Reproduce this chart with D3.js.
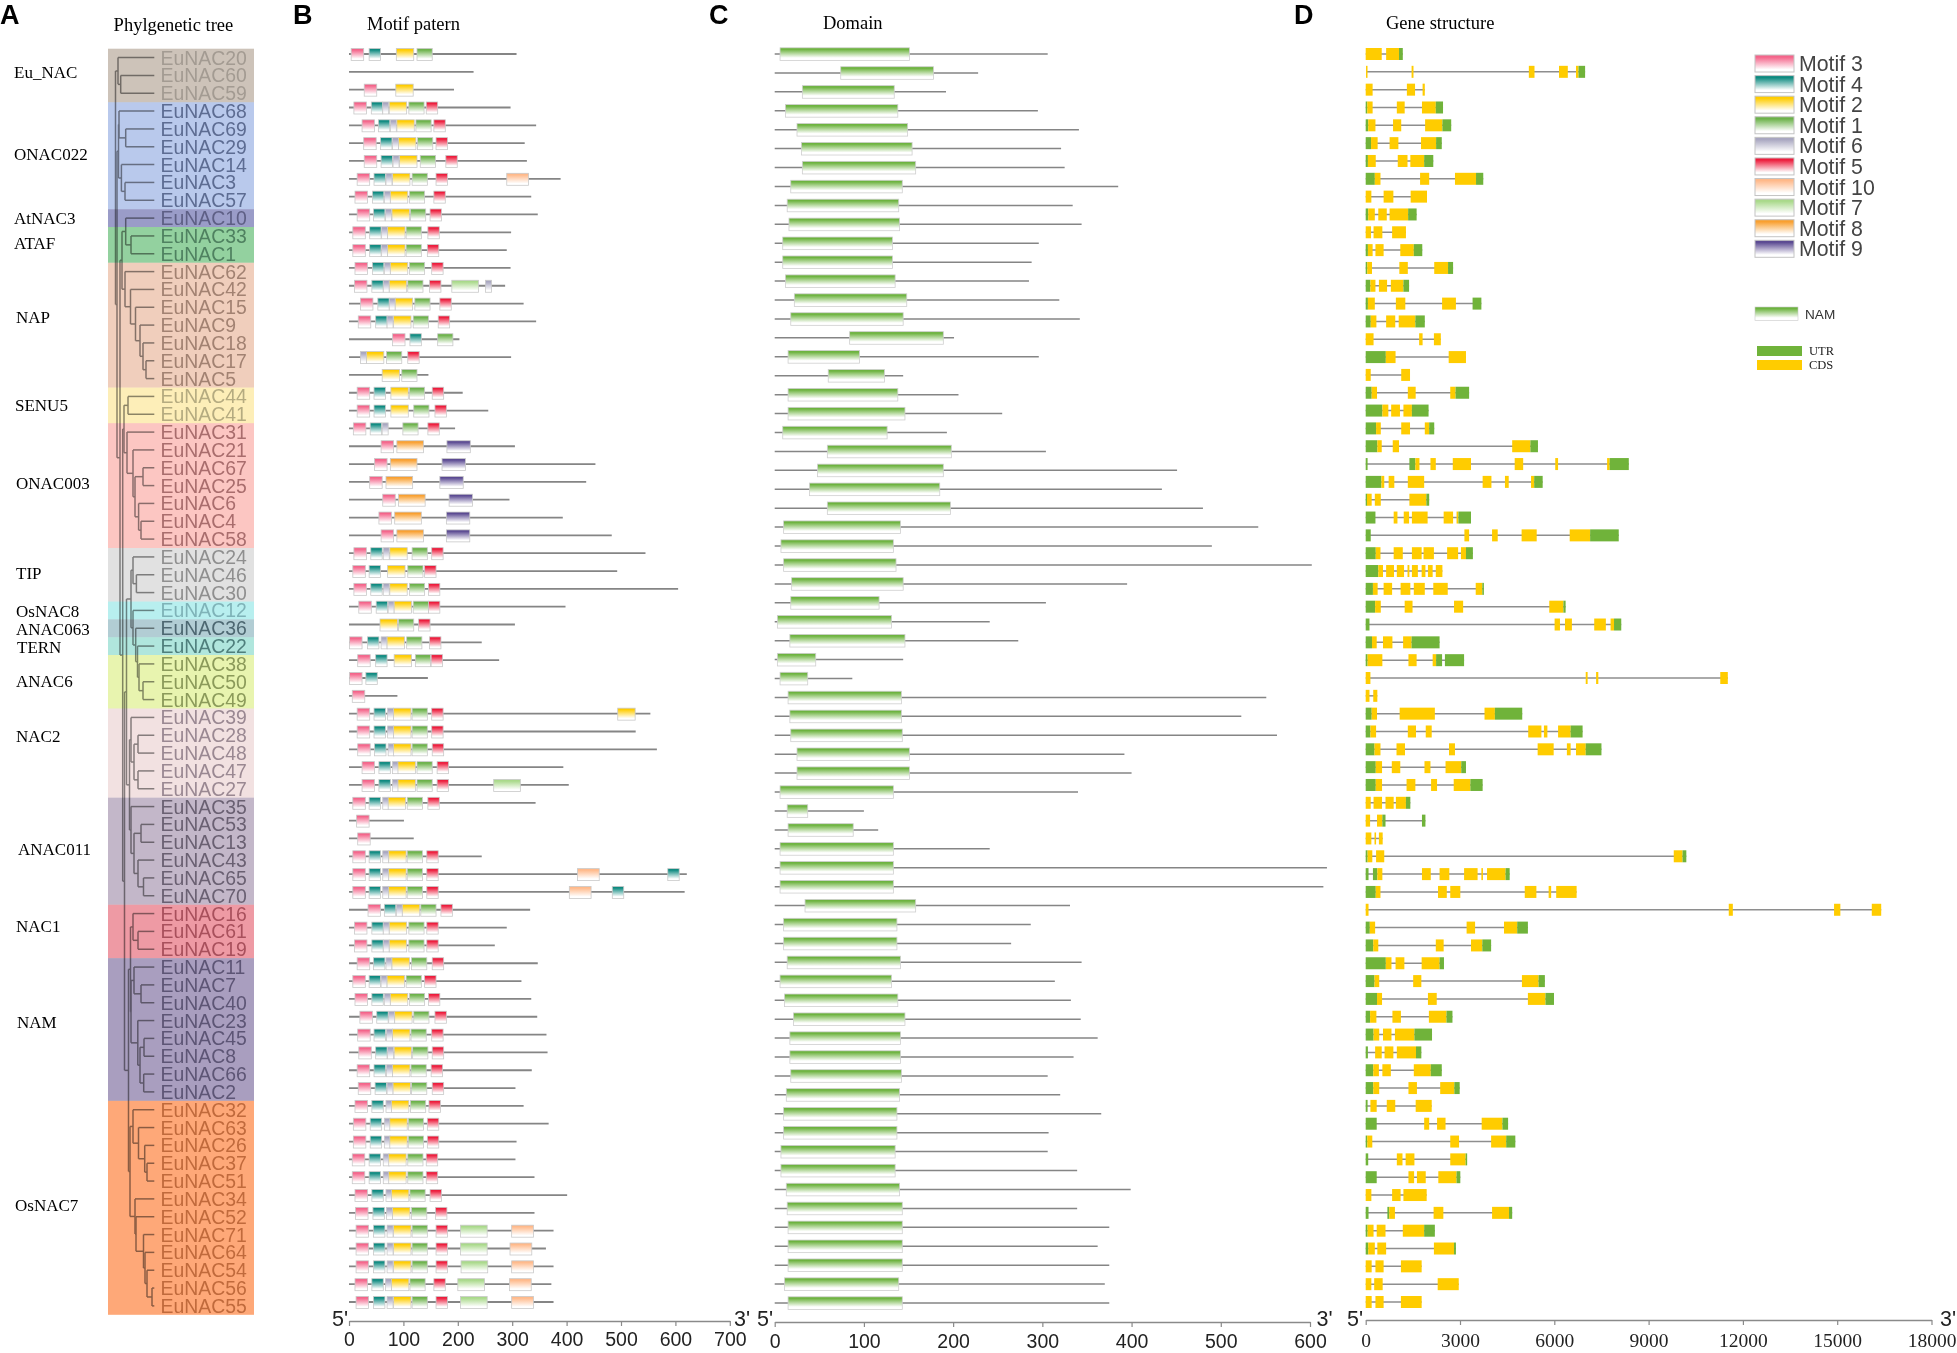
<!DOCTYPE html>
<html><head><meta charset="utf-8">
<script src="https://cdnjs.cloudflare.com/ajax/libs/d3/7.8.5/d3.min.js"></script>
<style>html,body{margin:0;padding:0;background:#fff}svg{display:block}</style>
</head><body>
<svg id="c" width="1957" height="1353"></svg>
<script>
// ---------- DATA ----------
const geneNames = [20,60,59,68,69,29,14,3,57,10,33,1,62,42,15,9,18,17,5,44,41,31,21,67,25,6,4,58,24,46,30,12,36,22,38,50,49,39,28,48,47,27,35,53,13,43,65,70,16,61,19,11,7,40,23,45,8,66,2,32,63,26,37,51,34,52,71,64,54,56,55].map(n=>"EuNAC"+n);
const bandNames = ["Eu_NAC","ONAC022","AtNAC3","ATAF","NAP","SENU5","ONAC003","TIP","OsNAC8","ANAC063","TERN","ANAC6","NAC2","ANAC011","NAC1","NAM","OsNAC7"];
const bandCounts = [3,6,1,2,7,2,7,3,1,1,1,3,5,6,3,8,12];
const bandFills = ["#cdc3b9","#b9c9ec","#9a9cc8","#93d19f","#f0cebc","#fdeeb8","#fcc6c2","#e1e1e1","#b8efef","#b2cdd4","#b0e6dd","#e8f4af","#f2e1e1","#c3b7c9","#ee9aa4","#a99ebf","#fea878"];
const bandInks = ["#a39b92","#5d6c92","#5e5f85","#4f8160","#a28272","#b5ab80","#a96d6d","#8f8f8f","#7fb3b8","#4d6771","#4f7f7c","#8b9a5a","#9a8892","#6a6072","#a8505c","#5d5575","#c06a3c"];
const bandLabelX = [14,14,14,14,16,15,16,16,16,16,17,16,16,18,16,17,15];
const bandLabelY = [72,154,218,243,317,405,483,573,611,629,647,681,736,849,926,1022,1205];

// Tree: T(divergence, ...children), leaves are gene names
const T=(d,...c)=>({d,c});
const L=n=>({d:39.3,n});
const G=n=>L("EuNAC"+n);
const treeData =
T(0.5,
  T(3,G(20),T(5.7,G(60),G(59))),
  T(2,
    T(3.5,T(4,G(68),T(10.7,G(69),G(29))),T(6.4,G(14),T(10,G(3),G(57)))),
    T(5,
      T(7,
        T(10.7,G(10),T(16,G(33),G(1))),
        T(10,G(62),T(15.5,G(42),T(20.5,G(15),T(25,G(9),T(28,G(18),T(31,G(17),G(5)))))))),
      T(7.7,
        T(9,T(13,G(44),G(41)),
          T(12,G(31),T(18,G(21),T(20,T(28,G(67),G(25)),T(23.6,G(6),T(26,G(4),G(58))))))),
        T(9.5,
          T(11.5,
            T(16,
              T(18,G(24),T(21.4,G(46),G(30))),
              T(18,G(12),T(20.7,G(36),T(22.5,G(22),T(24,G(38),T(28,G(50),G(49))))))),
            T(14.5,
              T(16,G(39),T(19,T(23,G(28),G(48)),T(23,G(47),G(27)))),
              T(16,G(35),T(19,T(26,G(53),G(13)),T(23,G(43),T(28.5,G(65),G(70))))))),
          T(13.5,
            T(15.5,
              T(18,G(16),T(23,G(61),G(19))),
              T(16,T(19,G(11),T(26,G(7),G(40))),T(22.8,G(23),T(25,T(29,G(45),G(8)),T(28.7,G(66),G(2)))))),
            T(15,
              T(18,G(32),T(23.5,G(63),T(29.7,G(26),T(32,G(37),G(51))))),
              T(20,G(34),T(21,G(52),T(28.5,G(71),T(30,G(64),T(32,G(54),T(37,G(56),G(55)))))))))
        )
      )
    )
  )
);

// Motif pattern (aa)
const motifIds = [3,4,2,1,6,5,10,7,8,9];
const motifColors = ["#f4648a","#0e8a80","#ffcc00","#6cb24a","#a8a6c0","#ed1c3c","#ffb98a","#a9d98a","#f9a030","#5b4a92"];
const motifSpan = {3:23,4:21,2:32,1:28,6:11,5:21,10:40,7:49,8:49,9:43};
const proteinLen = [308,229,193,297,344,323,327,389,335,347,298,290,297,287,321,344,203,298,146,209,256,195,305,453,436,295,393,483,545,493,605,398,305,244,276,145,89,554,527,566,394,404,343,101,119,244,621,617,333,290,268,347,317,335,346,363,365,336,306,321,367,308,306,341,401,341,376,362,376,372,376];
const motifHits = [
[3,4,4,37,2,87,1,125],[],[3,28,2,86],
[3,9,4,41,6,62,2,74,1,110,5,142],[3,24,4,54,6,76,2,88,1,123,5,156],[3,27,4,58,6,80,2,91,1,126,5,160],
[3,28,4,59,6,81,2,93,1,131,5,178],[3,15,4,46,6,68,2,80,1,116,5,160,10,290],[3,11,4,43,6,65,2,76,1,111,5,156],
[3,15,4,45,6,67,2,79,1,113,5,149],[3,7,4,38,6,60,2,71,1,105,5,145],[3,7,4,38,6,60,2,71,1,105,5,144],
[3,11,4,43,6,65,2,76,1,111,5,152],[3,10,4,42,6,63,2,74,1,108,5,148,7,189,6,251],[3,21,4,53,6,74,2,85,1,121,5,167],
[3,17,4,49,6,70,2,82,1,118,5,164],[3,80,4,112,1,163],[6,21,2,32,1,69,5,108],[2,61,1,97],
[3,15,4,46,2,77,1,111,5,153],[3,15,4,46,2,77,1,119,5,158],[3,8,4,39,6,61,1,99,5,145],
[3,59,8,88,9,180],[3,47,8,76,9,171],[3,38,8,68,9,167],[3,62,8,91,9,184],[3,55,8,84,9,179],[3,59,8,88,9,179],
[3,9,4,40,6,63,2,75,1,116,5,152],[3,7,4,37,2,71,1,108,5,139],[3,9,4,40,6,63,2,75,1,111,5,146],
[3,18,4,50,6,72,2,83,1,118,5,146],[2,57,1,91,5,128],[3,1,4,34,6,59,2,70,1,106,5,148],
[3,16,4,49,2,83,1,122,5,151],[3,1,4,31],[3,6],
[3,15,4,46,6,71,2,82,1,116,5,152,2,494],[3,15,4,46,6,71,2,82,1,116,5,152],[3,16,4,47,6,72,2,82,1,116,5,153],
[3,24,4,55,6,80,2,90,1,125,5,162],[3,24,4,55,6,80,2,90,1,125,5,162,7,266],
[3,7,4,37,6,62,2,72,1,107,5,145],[3,14],[3,16],
[3,7,4,37,6,62,2,73,1,107,5,143],[3,7,4,37,6,62,2,73,1,107,5,143,10,420,4,586],[3,7,4,37,6,62,2,73,1,107,5,143,10,405,4,484],
[3,35,4,65,6,87,2,98,1,132,5,169],[3,10,4,42,6,63,2,74,1,110,5,143],[3,10,4,42,6,63,2,74,1,110,5,143],
[3,15,4,45,6,68,2,79,1,115,5,153],[3,7,4,37,6,59,2,70,1,105,5,139],[3,11,4,42,6,65,2,76,1,111,5,146],
[3,20,4,51,6,73,2,84,1,119,5,158],[3,16,4,46,6,69,2,80,1,114,5,152],[3,18,4,49,6,71,2,83,1,117,5,153],
[3,15,4,46,6,69,2,80,1,114,5,151],[3,17,4,48,6,70,2,81,1,115,5,153],[3,11,4,42,6,68,2,78,1,113,5,147],
[3,8,4,39,6,65,2,75,1,109,5,144],[3,8,4,39,6,65,2,75,1,109,5,144],[3,6,4,37,6,63,2,73,1,108,5,142],
[3,6,4,37,6,63,2,73,1,108,5,142],[3,11,4,42,6,68,2,78,1,112,5,149],[3,12,4,44,6,69,2,80,1,115,5,159],
[3,13,4,45,6,70,2,82,1,116,5,160,7,205,10,299],[3,13,4,45,6,70,2,82,1,116,5,160,7,205,10,296],
[3,13,4,45,6,70,2,82,1,116,5,160,7,206,10,299],[3,11,4,42,6,67,2,78,1,112,5,156,7,200,10,295],
[3,13,4,45,6,70,2,82,1,116,5,160,7,205,10,299]
];

// Domain panel (aa): 67 rows
const domainStart = [6,74,31,12,25,30,31,18,14,16,9,9,12,22,18,84,15,60,15,15,9,59,48,39,59,10,7,10,19,18,3,17,3,6,15,17,18,25,25,6,14,15,6,6,6,34,10,10,14,6,11,21,17,17,18,13,10,10,7,7,13,14,15,15,15,11,15];
const domainEnd = [151,178,134,138,149,154,158,143,139,140,132,132,135,148,144,189,95,123,138,146,126,198,189,185,197,141,133,136,144,117,131,146,46,37,142,142,143,151,151,133,37,88,133,133,133,158,137,137,141,131,138,146,141,141,142,140,137,137,135,135,140,143,143,143,143,139,143];
const domainLen = [306,228,192,295,341,321,325,385,334,344,296,288,285,319,342,201,296,144,206,255,193,304,451,434,480,542,490,602,395,304,241,273,144,87,551,523,563,392,400,340,100,116,241,619,615,331,287,265,344,314,332,343,362,335,306,320,366,307,306,339,399,339,375,362,375,370,375];

// Gene structure (bp): C = CDS, U = UTR
const geneExons = [
"C0-510 C650-1060 U1060-1180","C10-40 C1460-1520 C5190-5370 C6150-6430 C6690-6770 U6770-6980","C0-220 C1310-1570 C1810-1880",
"U0-50 C50-220 C990-1240 C1790-2230 U2230-2460","U0-80 C80-310 C870-1130 C1890-2440 U2440-2720","U0-170 C170-380 C760-1040 C1760-2240 U2240-2420",
"U0-70 C70-320 C1020-1330 C1420-1860 U1860-2150","U0-290 C290-470 C1730-2020 C2840-3510 U3510-3740","C0-180 C570-880 C1430-1950",
"U0-80 C80-290 C400-670 C760-1350 U1350-1620","C0-170 C250-530 C840-1280","U0-70 C70-220 C310-570 C1100-1530 U1530-1800",
"U0-50 C50-200 C1070-1340 C2180-2620 U2620-2780","U0-150 C150-310 C420-680 C800-1200 U1200-1380","U0-70 C70-290 C960-1260 C2430-2870 U3400-3680",
"U0-160 C160-340 C650-940 C1050-1580 U1580-1880","C0-250 C1700-1810 C2170-2390","U0-640 C640-950 C2640-3190","C0-160 C1130-1410",
"U0-190 C190-360 C1340-1590 C2690-2860 U2860-3290","U0-530 C530-720 C810-1090 C1200-1470 U1470-2000","U0-330 C330-480 C1130-1410 C1880-2020 U2020-2180",
"U0-370 C370-510 C860-1060 C4660-5240 U5240-5480","U0-60 U1390-1580 C1580-1710 C2060-2230 C2770-3350 C4740-5010 C6030-6120 C7680-7760 U7760-8370",
"U0-500 C500-590 C730-910 C1340-1860 C3720-4000 C4430-4550 C5260-5360 U5360-5630","U0-40 C40-190 C290-480 C1390-1930 U1930-2020",
"U0-310 C890-1010 C1210-1380 C1470-1970 C2480-2780 C2890-2950 U2950-3350","U0-160 C3140-3290 C4020-4200 C4960-5440 C6490-7140 U7140-8050",
"U0-320 C320-470 C890-1180 C1470-1780 C1840-2170 C2590-2940 C3030-3190 U3190-3410","U0-400 C400-550 C650-900 C990-1220 C1330-1390 C1470-1660 C1780-1900 C1980-2130 C2230-2440",
"U0-230 C230-380 C570-840 C1110-1420 C1530-1880 C2150-2610 C3500-3710 U3710-3760","U0-300 C300-480 C1240-1490 C2810-3100 C5840-6290 U6290-6360",
"U0-120 C6010-6180 C6340-6560 C7270-7640 C7790-7900 U7900-8130","U0-200 C200-350 C550-850 C1190-1460 U1460-2350","U0-60 C60-530 C1360-1620 C2130-2240 U2240-2430 U2520-3130",
"C0-150 C7000-7060 C7330-7400 C11280-11520","C0-120 C240-370",
"U0-190 C190-360 C1080-2200 C3780-4110 U4110-4980","U0-150 C150-330 C1340-1600 C1910-2100 C5170-5590 C5670-5780 C6120-6520 U6520-6900",
"U0-280 C280-470 C980-1250 C2650-2840 C5470-5980 C6400-6520 C6690-7000 U7000-7500","U0-320 C320-520 C830-1100 C1870-2060 C2540-3040 U3040-3190",
"U0-320 C320-520 C1300-1580 C2080-2270 C2800-3330 U3330-3720","C0-160 C250-520 C630-890 C960-1280 U1280-1420","C0-140 C360-530 U530-630 U1790-1900","C0-180 C280-330 C420-540",
"U0-60 C60-210 C330-590 C9800-10080 U10080-10200","U0-90 U230-370 C370-530 C1790-2070 C2350-2660 C3130-3560 C3680-3730 C3860-4450 U4450-4580",
"U0-320 C320-470 C2300-2580 C2690-3010 C5060-5430 C5820-5900 C6060-6710","C0-90 C11550-11680 C14900-15100 C16100-16400",
"U0-130 C130-300 C3210-3480 C4400-4820 U4820-5160","U0-240 C240-400 C2230-2480 C3350-3710 U3710-3990","U0-640 C640-820 C950-1230 C1780-2350 U2350-2490",
"U0-280 C280-430 C1510-1770 C4970-5500 U5500-5700","U0-360 C360-520 C1980-2260 C5160-5720 U5720-5990","U0-140 C140-340 C850-1120 C2010-2570 U2570-2760",
"U0-250 C250-430 C550-820 C930-1550 U1550-2110","U0-70 C300-510 C600-880 C990-1600 U1600-1770","U0-240 C240-420 C530-800 C1530-2070 U2070-2420",
"U0-240 C240-430 C1360-1630 C2370-2820 U2820-2990","U0-60 C150-350 C670-940 C1590-2100","U0-350 C1860-2020 C2270-2540 C3690-4350 U4350-4530",
"U0-50 C50-210 C2690-2970 C3990-4470 U4470-4760","U0-80 C990-1170 C1270-1550 C2690-3180 U3180-3210","U0-350 C1360-1540 C1630-1910 C2310-2890 U2890-3010",
"C0-180 C840-1110 C1200-1940","U0-90 U690-750 C750-930 C2160-2470 C4020-4560 U4560-4660","U0-60 C60-250 C350-630 C1180-1860 U1860-2200",
"U0-80 C80-290 C370-650 C2170-2810 U2810-2870","C0-190 C310-570 C1120-1780","C0-180 C270-540 C2290-2960","C0-190 C310-570 C1120-1780"
];
const geneColors = {C:"#ffcc00",U:"#70b33a"};
const bTicks = [0,100,200,300,400,500,600,700];
const cTicks = [0,100,200,300,400,500,600];
const dTicks = [0,3000,6000,9000,12000,15000,18000];

// ---------- SETUP ----------
const SANS="'Liberation Sans',Arial,sans-serif", SERIF="'Liberation Serif','Times New Roman',serif";
const svg=d3.select("#c");
const defs=svg.append("defs");
function grad(id,col,end){
  const g=defs.append("linearGradient").attr("id",id).attr("x1",0).attr("x2",0).attr("y1",0).attr("y2",1);
  g.append("stop").attr("offset",0).attr("stop-color",col);
  g.append("stop").attr("offset",.12).attr("stop-color",col);
  g.append("stop").attr("offset",end).attr("stop-color","#fff");
}
motifIds.forEach((m,i)=>grad("m"+m,motifColors[i],.85));
grad("dom","#6db33f",.8);

const bandY=d3.scaleLinear().domain([0,71]).range([48.7,1314.8]);
const lineY=d3.scaleLinear().domain([0,70]).range([54,1302]);
const domY=d3.scaleLinear().domain([0,66]).range([54,1303]);
const bX=d3.scaleLinear().domain([0,700]).range([349,729.8]);
const cX=d3.scaleLinear().domain([0,600]).range([774.7,1310]);
const dX=d3.scaleLinear().domain([0,18000]).range([1365.7,1931.5]);
const treeX=d3.scaleLinear().domain([0,39.3]).range([115,154.3]);

// ---------- Titles ----------
const txt=(x,y,s,size,fam,extra={})=>{
  const t=svg.append("text").attr("x",x).attr("y",y).text(s).attr("font-size",size).attr("font-family",fam).attr("fill",extra.fill||"#000");
  if(extra.weight)t.attr("font-weight",extra.weight);
  if(extra.central)t.attr("dominant-baseline","central");
  if(extra.anchor)t.attr("text-anchor",extra.anchor);
  return t;
};
[["A",0],["B",293],["C",709],["D",1294]].forEach(([s,x])=>txt(x,24,s,27,SANS,{weight:"bold"}));
[["Phylgenetic tree",113.6,25],["Motif patern",367,24],["Domain",823,23],["Gene structure",1386,23]]
  .forEach(([s,x,y])=>txt(x,y,s,18.5,SERIF,{central:true}));

// ---------- Panel A ----------
const root=d3.hierarchy(treeData,d=>d.c);
root.eachAfter(n=>{
  if(!n.children){n.ry=bandY(geneNames.indexOf(n.data.n)+.5);}
  else n.ry=(n.children[0].ry+n.children[n.children.length-1].ry)/2;
});
const treeG=svg.append("g").attr("fill","none").attr("stroke","#8c8c8c").attr("stroke-width",1.5);
root.descendants().filter(n=>n.children).forEach(n=>{
  const ys=n.children.map(c=>c.ry);
  treeG.append("line").attr("x1",treeX(n.data.d)).attr("x2",treeX(n.data.d)).attr("y1",d3.min(ys)).attr("y2",d3.max(ys));
  n.children.forEach(c=>treeG.append("line").attr("x1",treeX(n.data.d)).attr("x2",treeX(c.data.d)).attr("y1",c.ry).attr("y2",c.ry));
});
const cum=d3.cumsum(bandCounts);
const bands=bandNames.map((name,i)=>({name,start:i?cum[i-1]:0,end:cum[i],i}));
svg.append("g").selectAll("rect").data(bands).join("rect")
  .attr("x",108).attr("width",146).attr("y",d=>bandY(d.start)).attr("height",d=>bandY(d.end)-bandY(d.start))
  .attr("fill",d=>bandFills[d.i]).style("mix-blend-mode","multiply");
bands.forEach(b=>{
  txt(bandLabelX[b.i],bandLabelY[b.i],b.name,17,SERIF,{central:true});
  d3.range(b.start,b.end).forEach(r=>
    txt(160.5,bandY(r+.5),geneNames[r],19.4,SANS,{central:true,fill:bandInks[b.i]}));
});

// ---------- Panel B ----------
const gB=svg.append("g");
gB.selectAll("line").data(proteinLen).join("line")
  .attr("x1",bX(0)).attr("x2",d=>bX(d)).attr("y1",(d,i)=>lineY(i)).attr("y2",(d,i)=>lineY(i))
  .attr("stroke","#858585").attr("stroke-width",1.8);
motifHits.forEach((h,r)=>{
  for(let k=0;k<h.length;k+=2){
    const m=h[k],s=h[k+1];
    gB.append("rect").attr("x",bX(s)).attr("width",bX(s+motifSpan[m])-bX(s)).attr("y",lineY(r)-5.5).attr("height",12)
      .attr("fill",`url(#m${m})`).attr("stroke","#c9c9c9").attr("stroke-width",.8);
  }
});

// ---------- Panel C ----------
const gC=svg.append("g");
gC.selectAll("line").data(domainLen).join("line")
  .attr("x1",cX(0)).attr("x2",d=>cX(d)).attr("y1",(d,i)=>domY(i)).attr("y2",(d,i)=>domY(i))
  .attr("stroke","#858585").attr("stroke-width",1.5);
gC.selectAll("rect").data(domainStart).join("rect")
  .attr("x",d=>cX(d)).attr("width",(d,i)=>cX(domainEnd[i])-cX(d)).attr("y",(d,i)=>domY(i)-6.2).attr("height",12.6)
  .attr("fill","url(#dom)").attr("stroke","#cfcfcf").attr("stroke-width",.8);

// ---------- Panel D ----------
const gD=svg.append("g");
geneExons.forEach((s,r)=>{
  const segs=s.split(" ").map(e=>{const [a,b]=e.slice(1).split("-").map(Number);return {t:e[0],a,b};});
  gD.append("line").attr("x1",dX(segs[0].a)).attr("x2",dX(segs[segs.length-1].b)).attr("y1",lineY(r)).attr("y2",lineY(r))
    .attr("stroke","#8e8e8e").attr("stroke-width",1.5);
  gD.selectAll(null).data(segs).join("rect")
    .attr("x",d=>dX(d.a)).attr("width",d=>Math.max(1.5,dX(d.b)-dX(d.a))).attr("y",lineY(r)-6).attr("height",12)
    .attr("fill",d=>geneColors[d.t]);
});

// ---------- Axes ----------
function axis(scale,ticks,y,labY,fam,sizeL){
  const g=svg.append("g").attr("transform",`translate(0,${y})`)
    .call(d3.axisBottom(scale).tickValues(ticks).tickSize(5).tickSizeOuter(0).tickFormat(d3.format("d")));
  g.select(".domain").attr("stroke","#8a8a8a").attr("stroke-width",1.5);
  g.selectAll(".tick line").attr("stroke","#8a8a8a").attr("stroke-width",1.2);
  g.selectAll(".tick text").attr("font-family",fam).attr("font-size",sizeL).attr("fill","#222")
    .attr("y",labY-y).attr("dy",0).attr("dominant-baseline","central");
}
axis(bX,bTicks,1321,1339,SANS,19.5);
axis(cX,cTicks,1322,1340.5,SANS,19.5);
axis(dX,dTicks,1320,1340.5,SERIF,19.5);
[[332,"5'"],[734,"3'"],[757,"5'"],[1316.5,"3'"],[1347,"5'"],[1940,"3'"]]
  .forEach(([x,s])=>txt(x,1319,s,21.5,SANS,{central:true,fill:"#222"}));

// ---------- Legends ----------
const legY=d3.scaleLinear().domain([0,9]).range([55,240.3]);
motifIds.forEach((m,i)=>{
  svg.append("rect").attr("x",1755).attr("y",legY(i)).attr("width",39).attr("height",17)
    .attr("fill",`url(#m${m})`).attr("stroke","#c4c4c4").attr("stroke-width",1);
  txt(1799,legY(i)+9,"Motif "+m,21.3,SANS,{central:true,fill:"#444"});
});
svg.append("rect").attr("x",1755).attr("y",307).attr("width",43).attr("height",13.5).attr("fill","url(#dom)").attr("stroke","#c9c9c9").attr("stroke-width",.6);
txt(1805,314,"NAM",13.6,SANS,{central:true,fill:"#333"});
[["UTR","U",346,351],["CDS","C",360,365]].forEach(([s,k,y,ty])=>{
  svg.append("rect").attr("x",1757).attr("y",y).attr("width",45).attr("height",10).attr("fill",geneColors[k]);
  txt(1809,ty,s,12.5,SERIF,{central:true,fill:"#222"});
});
</script>
</body></html>
